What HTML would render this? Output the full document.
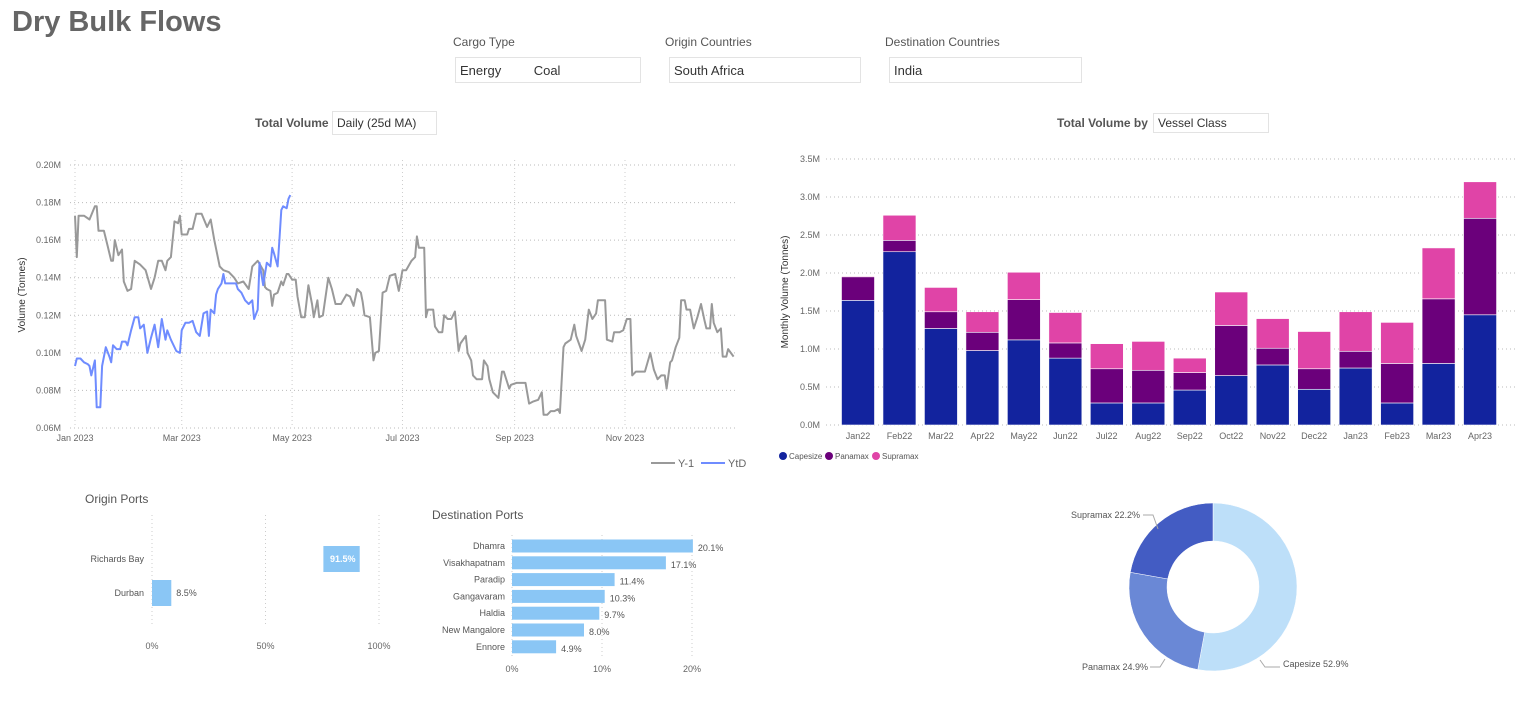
<!DOCTYPE html>
<html><head><meta charset="utf-8"><style>
body{margin:0;width:1515px;height:705px;background:#fff;overflow:hidden;font-family:"Liberation Sans",sans-serif;position:relative}
.t{position:absolute;color:#555;white-space:nowrap}
.box{position:absolute;border:1px solid #e3e3e3;background:#fff;font-size:13px;color:#333;box-sizing:border-box;padding:5px 4px}
svg{position:absolute;left:0;top:0}
svg text{font-family:"Liberation Sans",sans-serif}
</style></head><body>
<div class="t" style="left:12px;top:6px;font-size:29px;font-weight:bold;color:#666">Dry Bulk Flows</div>
<div class="t" style="left:453px;top:35px;font-size:12px">Cargo Type</div>
<div class="box" style="left:455px;top:57px;width:186px;height:26px">Energy&nbsp;&nbsp;&nbsp;&nbsp;&nbsp;&nbsp;&nbsp;&nbsp;&nbsp;Coal</div>
<div class="t" style="left:665px;top:35px;font-size:12px">Origin Countries</div>
<div class="box" style="left:669px;top:57px;width:192px;height:26px">South Africa</div>
<div class="t" style="left:885px;top:35px;font-size:12px">Destination Countries</div>
<div class="box" style="left:889px;top:57px;width:193px;height:26px">India</div>
<div class="t" style="left:255px;top:116px;font-size:12px;font-weight:bold">Total Volume</div>
<div class="box" style="left:332px;top:111px;width:105px;height:24px;font-size:12px;padding:4px">Daily (25d MA)</div>
<div class="t" style="left:1057px;top:116px;font-size:12px;font-weight:bold">Total Volume by</div>
<div class="box" style="left:1153px;top:113px;width:116px;height:20px;font-size:12px;padding:2px 4px">Vessel Class</div>
<div class="t" style="left:85px;top:492px;font-size:12px">Origin Ports</div>
<div class="t" style="left:432px;top:508px;font-size:12px">Destination Ports</div>
<svg id="svg" width="1515" height="705"></svg>
<script>
// Line chart data
const y1Days=[0,1,2,5,8,11,12,13,16,18,20,21,22,24,26,27,29,31,33,36,39,42,44,46,48,50,51,53,55,57,58,59,62,63,65,67,70,73,75,77,80,82,85,88,90,93,96,98,101,104,105,106,108,109,110,112,114,115,117,118,120,122,123,125,127,129,131,132,134,135,137,140,142,144,147,150,152,154,156,158,159,160,163,165,166,168,170,172,174,177,179,181,183,186,188,189,190,193,194,195,198,199,201,203,204,206,208,210,212,213,216,217,219,220,222,225,226,228,229,231,234,236,237,240,241,244,248,249,251,253,256,258,259,261,263,265,267,268,270,271,274,276,277,280,282,284,286,288,289,293,294,297,298,301,303,305,307,308,310,315,318,320,322,324,326,327,329,330,332,334,335,337,338,340,342,344,346,348,349,351,352,353,355,357,358,360,361,364];
const y1Vals=[0.173,0.151,0.173,0.173,0.171,0.178,0.178,0.165,0.165,0.157,0.149,0.149,0.160,0.152,0.155,0.138,0.133,0.134,0.149,0.147,0.144,0.134,0.140,0.149,0.149,0.144,0.149,0.151,0.170,0.169,0.173,0.163,0.163,0.166,0.166,0.174,0.174,0.167,0.171,0.160,0.146,0.144,0.143,0.140,0.137,0.138,0.134,0.146,0.149,0.144,0.135,0.134,0.133,0.125,0.131,0.132,0.138,0.136,0.142,0.142,0.139,0.139,0.130,0.119,0.119,0.136,0.126,0.119,0.128,0.119,0.120,0.140,0.134,0.126,0.126,0.131,0.130,0.125,0.134,0.132,0.127,0.120,0.119,0.096,0.100,0.101,0.132,0.133,0.141,0.142,0.133,0.144,0.144,0.149,0.151,0.162,0.156,0.156,0.119,0.123,0.123,0.114,0.111,0.111,0.120,0.118,0.118,0.122,0.101,0.105,0.109,0.100,0.096,0.088,0.086,0.086,0.096,0.093,0.086,0.079,0.076,0.090,0.090,0.081,0.083,0.084,0.084,0.084,0.073,0.074,0.075,0.079,0.067,0.067,0.069,0.069,0.070,0.068,0.103,0.105,0.107,0.115,0.109,0.101,0.107,0.123,0.118,0.121,0.128,0.128,0.107,0.106,0.111,0.111,0.112,0.118,0.118,0.088,0.090,0.090,0.100,0.091,0.086,0.088,0.088,0.081,0.095,0.096,0.103,0.108,0.128,0.128,0.123,0.123,0.113,0.119,0.126,0.117,0.113,0.113,0.126,0.116,0.111,0.113,0.098,0.098,0.102,0.098];
const ytdDays=[0,1,3,5,7,8,9,10,11,12,14,15,17,19,20,21,23,25,26,28,29,31,33,35,36,38,40,42,44,46,48,50,51,53,56,58,59,61,63,65,67,69,71,73,74,75,77,78,79,81,82,83,86,89,90,92,94,96,98,99,101,102,104,105,106,108,109,110,112,113,114,115,117,118,119];
const ytdVals=[0.093,0.097,0.097,0.095,0.094,0.093,0.088,0.092,0.096,0.071,0.071,0.093,0.103,0.098,0.095,0.104,0.102,0.102,0.106,0.106,0.104,0.112,0.119,0.119,0.113,0.115,0.100,0.108,0.115,0.103,0.118,0.107,0.112,0.107,0.101,0.100,0.112,0.116,0.116,0.117,0.111,0.109,0.121,0.122,0.109,0.123,0.121,0.131,0.134,0.137,0.142,0.137,0.137,0.137,0.134,0.132,0.128,0.126,0.128,0.118,0.123,0.148,0.136,0.142,0.148,0.146,0.156,0.153,0.146,0.160,0.176,0.178,0.177,0.182,0.184];
const lineYTicks=[0.06,0.08,0.10,0.12,0.14,0.16,0.18,0.20];
const lineXTickDays=[0,59,120,181,243,304];
const lineXTickLabels=["Jan 2023","Mar 2023","May 2023","Jul 2023","Sep 2023","Nov 2023"];
// Bar chart data
const months=["Jan22","Feb22","Mar22","Apr22","May22","Jun22","Jul22","Aug22","Sep22","Oct22","Nov22","Dec22","Jan23","Feb23","Mar23","Apr23"];
const capesize=[1.64,2.28,1.27,0.98,1.12,0.88,0.29,0.29,0.46,0.65,0.79,0.47,0.75,0.29,0.81,1.45];
const panamax=[0.31,0.15,0.22,0.24,0.53,0.20,0.45,0.43,0.23,0.66,0.22,0.27,0.22,0.52,0.85,1.27];
const supramax=[0.01,0.33,0.32,0.27,0.36,0.40,0.33,0.38,0.19,0.44,0.39,0.49,0.52,0.54,0.67,0.48];
const barYTicks=[0,0.5,1.0,1.5,2.0,2.5,3.0,3.5];
// Origin ports
const originPorts=["Richards Bay","Durban"];
const originShares=[91.5,8.5];
// Destination ports
const destPorts=["Dhamra","Visakhapatnam","Paradip","Gangavaram","Haldia","New Mangalore","Ennore"];
const destShares=[20.1,17.1,11.4,10.3,9.7,8.0,4.9];
// Donut
const donutLabels=["Capesize","Panamax","Supramax"];
const donutShares=[52.9,24.9,22.2];

const NS="http://www.w3.org/2000/svg";
const svg=document.getElementById('svg');
function mk(tag,attrs,txt){const e=document.createElementNS(NS,tag);for(const k in attrs)e.setAttribute(k,attrs[k]);if(txt!==undefined)e.textContent=txt;svg.appendChild(e);return e;}

// ---- Line chart
const lx=d=>75+d*(550/304), ly=v=>428-(v-0.06)*(263/0.14);
lineYTicks.forEach(v=>{
  const g=mk('line',{x1:70,x2:738,y1:ly(v),y2:ly(v),stroke:'#bbb','stroke-dasharray':'1 3'});
  
  const t=mk('text',{x:61,y:ly(v)+3,'font-size':9,fill:'#666','text-anchor':'end'},v.toFixed(2)+'M');
  
});
lineXTickDays.forEach((d,i)=>{
  const g=mk('line',{x1:lx(d),x2:lx(d),y1:160,y2:428,stroke:'#ccc','stroke-dasharray':'1 3'});
  
  const t=mk('text',{x:lx(d),y:441,'font-size':9,fill:'#666','text-anchor':'middle'},lineXTickLabels[i]);
  
});
const yt=mk('text',{x:0,y:0,'font-size':10,fill:'#333','text-anchor':'middle',transform:'translate(25,295) rotate(-90)'},'Volume (Tonnes)');

function stepPath(ds,vs){let p='';ds.forEach((d,i)=>{p+=(i?'L':'M')+lx(d).toFixed(1)+','+ly(vs[i]).toFixed(1);});return p;}
const l1=mk('path',{d:stepPath(y1Days,y1Vals),fill:'none',stroke:'#999','stroke-width':2,'stroke-linejoin':'round'});

const l2=mk('path',{d:stepPath(ytdDays,ytdVals),fill:'none',stroke:'#6F8CFF','stroke-width':2,'stroke-linejoin':'round'});

let e;
e=mk('line',{x1:651,x2:675,y1:463,y2:463,stroke:'#999','stroke-width':2});
e=mk('text',{x:678,y:467,'font-size':11,fill:'#666'},'Y-1');
e=mk('line',{x1:701,x2:725,y1:463,y2:463,stroke:'#6F8CFF','stroke-width':2});
e=mk('text',{x:728,y:467,'font-size':11,fill:'#666'},'YtD');

// ---- Bar chart
const by=v=>425-v*(266/3.5), bx=i=>858+i*41.47;
barYTicks.forEach(v=>{
  const g=mk('line',{x1:826,x2:1515,y1:by(v),y2:by(v),stroke:'#bbb','stroke-dasharray':'1 3'});
  
  const t=mk('text',{x:820,y:by(v)+3,'font-size':9,fill:'#666','text-anchor':'end'},v.toFixed(1)+'M');
  
});
e=mk('text',{x:0,y:0,'font-size':10,fill:'#333','text-anchor':'middle',transform:'translate(788,292) rotate(-90)'},'Monthly Volume (Tonnes)');

const serCols=['#12239E','#6B007B','#E044A7'];
const serNames=['capesize','panamax','supramax'];
months.forEach((m,i)=>{
  let base=0;
  [capesize[i],panamax[i],supramax[i]].forEach((v,s)=>{
    const r=mk('rect',{x:bx(i)-16.5,y:by(base+v),width:33,height:by(base)-by(base+v),fill:serCols[s],stroke:'#fff','stroke-width':0.6});
    
    
    base+=v;
  });
  const t=mk('text',{x:bx(i),y:439,'font-size':9,fill:'#666','text-anchor':'middle'},m);
  
});
['Capesize','Panamax','Supramax'].forEach((n,s)=>{
  const xs=[783,829,876][s];
  const c=mk('circle',{cx:xs,cy:456,r:4,fill:serCols[s]});
  
  const t=mk('text',{x:xs+6,y:459,'font-size':8,fill:'#555'},n);
  
});

// ---- Origin ports
const ox=v=>152+v*(227/100);
[0,50,100].forEach(v=>{
  const g=mk('line',{x1:ox(v),x2:ox(v),y1:515,y2:625,stroke:'#ccc','stroke-dasharray':'1 3'});
  
  const t=mk('text',{x:ox(v),y:649,'font-size':9,fill:'#666','text-anchor':'middle'},v+'%');
  
});
originPorts.forEach((p,i)=>{
  const cy=[559,593][i], v=originShares[i];
  const x0=ox(Math.max(0,v-16));
  const r=mk('rect',{x:x0,y:cy-13,width:ox(v)-x0,height:26,fill:'#8AC6F5'});
  
  const t=mk('text',{x:144,y:cy+3,'font-size':9,fill:'#555','text-anchor':'end'},p);
  
  const inside=v>50;
  const lt=mk('text',{x:inside?ox(v)-17:ox(v)+5,y:cy+3,'font-size':9,fill:inside?'#fff':'#555','font-weight':inside?'bold':'normal','text-anchor':inside?'middle':'start'},v.toFixed(1)+'%');
  
});

// ---- Destination ports
const dx=v=>512+v*9;
[0,10,20].forEach(v=>{
  const g=mk('line',{x1:dx(v),x2:dx(v),y1:535,y2:656,stroke:'#ccc','stroke-dasharray':'1 3'});
  
  const t=mk('text',{x:dx(v),y:672,'font-size':9,fill:'#666','text-anchor':'middle'},v+'%');
  
});
destPorts.forEach((p,i)=>{
  const cy=546+i*16.8, v=destShares[i];
  const r=mk('rect',{x:dx(0),y:cy-6.5,width:dx(v)-dx(0),height:13,fill:'#8AC6F5'});
  
  const t=mk('text',{x:505,y:cy+3,'font-size':9,fill:'#555','text-anchor':'end'},p);
  
  const lt=mk('text',{x:dx(v)+5,y:cy+5,'font-size':9,fill:'#555'},v.toFixed(1)+'%');
  
});

// ---- Donut
const cx=1213,cy=587,R=84,r0=46;
const dCols=['#BDDFF9','#6A88D6','#435CC3'];
let acc=0;
donutShares.forEach((s,i)=>{
  const a0=acc/100*2*Math.PI, a1=(acc+s)/100*2*Math.PI; acc+=s;
  const P=(a,rr)=>[cx+rr*Math.sin(a),cy-rr*Math.cos(a)];
  const [x0,y0]=P(a0,R),[x1,y1]=P(a1,R),[x2,y2]=P(a1,r0),[x3,y3]=P(a0,r0);
  const lg=(a1-a0)>Math.PI?1:0;
  const p=mk('path',{d:`M${x0},${y0}A${R},${R} 0 ${lg} 1 ${x1},${y1}L${x2},${y2}A${r0},${r0} 0 ${lg} 0 ${x3},${y3}Z`,fill:dCols[i],stroke:'#fff','stroke-width':0.5});
  
});
const dl=[[1283,667,'start',[1260,660,1265,667,1280,667]],[1148,670,'end',[1165,659,1160,667,1150,667]],[1140,518,'end',[1158,529,1153,515,1143,515]]];
donutLabels.forEach((n,i)=>{
  const L=dl[i],k=L[3];
  const pl=mk('polyline',{points:`${k[0]},${k[1]} ${k[2]},${k[3]} ${k[4]},${k[5]}`,fill:'none',stroke:'#aaa','stroke-width':1});
  
  const t=mk('text',{x:L[0],y:L[1],'font-size':9,fill:'#555','text-anchor':L[2]},n+' '+donutShares[i].toFixed(1)+'%');
  
});
</script>
</body></html>
